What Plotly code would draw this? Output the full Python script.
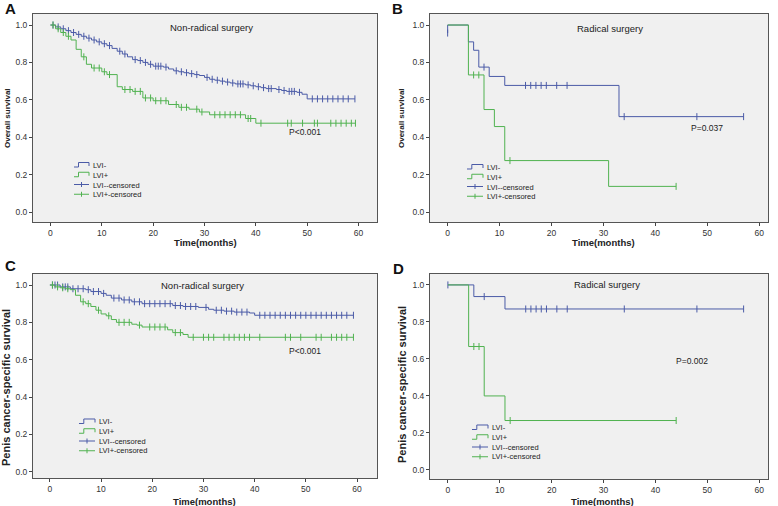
import numpy as np
import plotly.graph_objects as go

# ---------------- data ----------------
x_ticks = [0, 10, 20, 30, 40, 50, 60]
y_ticks = [0.0, 0.2, 0.4, 0.6, 0.8, 1.0]
group_names = ["LVI-", "LVI+", "LVI--censored", "LVI+-censored"]

# Panel A: overall survival, non-radical surgery
A_neg_t = [0,1,2,3,4,5,6,7,8,9,10,11,12,13,14,15,16,17,18,19,20,22,23,24,25,26,27,28,29,30,31,32,33,34,35,36,38,39,40,41,42,44,45,46,48,49,50]
A_neg_s = [1.0,0.99,0.98,0.97,0.96,0.95,0.94,0.93,0.92,0.91,0.90,0.89,0.875,0.86,0.845,0.83,0.815,0.81,0.80,0.79,0.78,0.775,0.765,0.755,0.75,0.745,0.74,0.735,0.73,0.72,0.71,0.705,0.70,0.695,0.69,0.685,0.68,0.675,0.67,0.665,0.66,0.655,0.65,0.645,0.64,0.63,0.605]
A_neg_c = [0.5,1.5,2.5,3.5,4.5,5.5,6.5,7.5,8.5,9.5,10.5,11.5,13.5,14.5,16.5,17.5,18.5,19.5,20.5,21,21.5,22.5,24.5,25.5,26.5,27.5,28.5,30.5,31.5,32.5,33.5,34.5,35.5,36.5,37,37.5,38.5,39.5,40.5,41.5,42.5,43,44.5,45.5,46.5,47,47.5,48.5,51,52,53,54,55,56,57,58,59.3]
A_pos_t = [0,1,2,3,4,5,6,7,8,10,11,13,14,16,18,20,23,25,27,29,31,38,40]
A_pos_s = [1.0,0.98,0.96,0.94,0.92,0.87,0.83,0.79,0.77,0.75,0.735,0.67,0.655,0.645,0.61,0.595,0.575,0.56,0.55,0.535,0.52,0.50,0.475]
A_pos_c = [0.5,1.5,2.5,3.5,6.5,8.5,9.5,10.5,11.5,14.5,15.5,16.5,17.5,18.5,19.5,20.5,21.5,22.5,24.5,25.5,26.5,28.5,29.5,32,33,34,35,36,37,38.5,39,41,46.2,46.9,49.1,51.4,52,54.6,55.6,56.6,57.6,58.6,59.4]

# Panel B: overall survival, radical surgery
B_neg_t = [0,0,4,5,6,8,11,33]
B_neg_s = [0.957,1.0,0.91,0.865,0.775,0.725,0.677,0.51]
B_neg_c = [0,7,15,16,17,18,19,21,23,34,48,57]
B_pos_t = [0,4,7,9,11,31]
B_pos_s = [1.0,0.733,0.548,0.457,0.275,0.137]
B_pos_c = [5,6,12,44]

# Panel C: penis cancer-specific survival, non-radical surgery
C_neg_t = [0,2,4,7,8,10,11,12,14,16,18,24,26,29,31,32,34,36,39,40]
C_neg_s = [1.0,0.99,0.98,0.975,0.965,0.955,0.945,0.93,0.92,0.91,0.90,0.89,0.885,0.88,0.87,0.865,0.86,0.855,0.85,0.838]
C_neg_c = [0.5,1,1.5,2.5,3,3.5,4.5,5.5,6.5,7.5,8.5,9.5,10.5,12.5,13.5,14.5,15.5,16.5,17.5,18.5,19.5,20.5,21.5,22.5,23.5,24.5,25.5,26.5,27.5,28.5,30.5,32.5,33.5,34.5,35.5,36.5,37.5,38.5,41,42,43,44,45,46,47,48,49,50,51,52,53,54,55,56,57,58,59.3]
C_pos_t = [0,1,2,3,4,5,6,7,8,9,10,11,12,13,16,17,18,23,24,26,27]
C_pos_s = [1.0,0.99,0.985,0.98,0.975,0.945,0.91,0.90,0.885,0.865,0.845,0.835,0.815,0.80,0.79,0.785,0.775,0.76,0.745,0.735,0.72]
C_pos_c = [0.5,1.5,2.5,3.5,6.5,7.5,9.5,11.5,13.5,14.5,15.5,17.5,19.5,20.5,21.5,22.5,24.5,25.5,28,30,31,32,34,35,36,37,38,39,41,46,47,49,52,53,55,56,57,58,59.3]

# Panel D: penis cancer-specific survival, radical surgery
D_neg_t = [0,5,11]
D_neg_s = [1.0,0.937,0.87]
D_neg_c = [0,7,15,16,17,18,19,21,23,34,48,57]
D_pos_t = [0,4,7,11]
D_pos_s = [1.0,0.667,0.40,0.267]
D_pos_c = [5,6,12,44]

panel_letters = ["A", "B", "C", "D"]
panel_titles = ["Non-radical surgery", "Radical surgery", "Non-radical surgery", "Radical surgery"]
p_values = ["P<0.001", "P=0.037", "P<0.001", "P=0.002"]
p_pos = [(49.6, 0.426), (50.0, 0.451), (49.9, 0.648), (47.0, 0.589)]
y_titles = ["Overall survival", "Overall survival",
            "Penis cancer-specific survival", "Penis cancer-specific survival"]
x_title = "Time(months)"

# ---------------- styling / layout (pixels) ----------------
BLUE = "#4b5ba7"
GREEN = "#50b250"
FONT = "Liberation Sans, Arial, sans-serif"
W, H = 778, 506

boxes = [(33, 377, 14, 222), (430, 768, 14, 222), (33, 377, 274, 478), (430, 768, 274, 479)]
xranges = [(-3.4, 63.6), (-3.4, 61.7), (-3.3, 63.9), (-3.45, 61.7)]
yranges = [(-0.0535, 1.059), (-0.0535, 1.059), (-0.034, 1.059), (-0.049, 1.059)]
title_px = [(211.7, 27), (609.7, 28.7), (202, 285.7), (607, 284.7)]
letter_px = [(3, 8.5), (390, 8), (3, 265), (391, 268)]
ytitle_px = [(7, 118), (401, 118), (6, 388), (402, 385)]
ytitle_size = [8, 8, 11, 11]
xtitle_px = [(205, 242), (603, 242), (204, 501), (602, 501)]
legend_px = [  # icon left x, first row y, text x
    (74, 165, 91), (467, 167, 485), (79, 421.5, 97), (472, 427.5, 490)]
LEG_PITCH = 9.75  # line pitch of a 7.5px multi-line annotation

curves = [
    ((A_neg_t, A_neg_s, A_neg_c), (A_pos_t, A_pos_s, A_pos_c)),
    ((B_neg_t, B_neg_s, B_neg_c), (B_pos_t, B_pos_s, B_pos_c)),
    ((C_neg_t, C_neg_s, C_neg_c), (C_pos_t, C_pos_s, C_pos_c)),
    ((D_neg_t, D_neg_s, D_neg_c), (D_pos_t, D_pos_s, D_pos_c)),
]


def step_lookup(t, s, c):
    t = np.asarray(t, float)
    s = np.asarray(s, float)
    idx = np.searchsorted(t, np.asarray(c, float), side="left") - 1
    idx = np.clip(idx, 0, len(s) - 1)
    return s[idx]


def px2paper(px, py):
    return px / W, 1 - py / H


fig = go.Figure()
layout = {}
shapes = []
annotations = []
TXT = "#222"


def ann(text, px, py, size, angle=0, xanchor="center", color=TXT, **kw):
    x, y = px2paper(px, py)
    annotations.append(dict(text=text, x=x, y=y, xref="paper", yref="paper",
                            xanchor=xanchor, yanchor="middle", textangle=angle, showarrow=False,
                            font=dict(size=size, color=color, family=FONT), **kw))


for i in range(4):
    ax = "" if i == 0 else str(i + 1)
    xa, ya = "x" + ax, "y" + ax
    l, r, tp, bt = boxes[i]
    common = dict(ticks="outside", ticklen=3, tickwidth=1, tickcolor="#444",
                  showline=True, linecolor="#555", linewidth=1, mirror=True,
                  showgrid=False, zeroline=False,
                  tickfont=dict(size=8.5, color="#333", family=FONT))
    layout["xaxis" + ax] = dict(domain=[l / W, r / W], range=list(xranges[i]), anchor=ya,
                                tickvals=x_ticks, **common)
    layout["yaxis" + ax] = dict(domain=[1 - bt / H, 1 - tp / H], range=list(yranges[i]), anchor=xa,
                                tickvals=y_ticks, tickformat=".1f", **common)

    for (t, s, c), col in zip(curves[i], [BLUE, GREEN]):
        tt = list(t)
        ss = list(s)
        if max(c) > tt[-1]:
            tt.append(max(c))
            ss.append(ss[-1])
        fig.add_trace(go.Scatter(x=tt, y=ss, mode="lines", line=dict(color=col, width=1, shape="hv"),
                                 xaxis=xa, yaxis=ya, showlegend=False, hoverinfo="skip"))
        fig.add_trace(go.Scatter(x=c, y=step_lookup(t, s, c), mode="markers",
                                 marker=dict(symbol="line-ns", size=5, line=dict(color=col, width=1)),
                                 xaxis=xa, yaxis=ya, showlegend=False, hoverinfo="skip"))

    ann(panel_titles[i], *title_px[i], 9.5)
    annotations.append(dict(text=p_values[i], x=p_pos[i][0], y=p_pos[i][1], xref=xa, yref=ya,
                            xanchor="center", yanchor="middle", showarrow=False,
                            font=dict(size=8.5, color=TXT, family=FONT)))
    ann("<b>" + panel_letters[i] + "</b>", *letter_px[i], 15, xanchor="left", color="#111")
    ann("<b>" + y_titles[i] + "</b>", *ytitle_px[i], ytitle_size[i], angle=-90)
    ann("<b>" + x_title + "</b>", *xtitle_px[i], 9.5)

    # manual legend inside plot (lower left)
    ix, iy0, tx0 = legend_px[i]
    iw = tx0 - ix - 2
    for k in range(4):
        col = BLUE if k in (0, 2) else GREEN
        yc = iy0 + k * LEG_PITCH
        if k < 2:
            xs = [ix, ix + 0.3 * iw, ix + 0.3 * iw, ix + iw, ix + iw]
            ys = [yc + 2, yc + 2, yc - 2.5, yc - 2.5, yc + 1]
            pts = [px2paper(a, b) for a, b in zip(xs, ys)]
            path = "M " + " L ".join(f"{a:.5f},{b:.5f}" for a, b in pts)
            shapes.append(dict(type="path", path=path, xref="paper", yref="paper",
                               line=dict(color=col, width=1)))
        else:
            a0, b0 = px2paper(ix, yc)
            a1, _ = px2paper(ix + iw, yc)
            am, bt0 = px2paper(ix + iw / 2, yc - 2.5)
            _, bt1 = px2paper(ix + iw / 2, yc + 2.5)
            shapes.append(dict(type="line", x0=a0, x1=a1, y0=b0, y1=b0, xref="paper", yref="paper",
                               line=dict(color=col, width=1)))
            shapes.append(dict(type="line", x0=am, x1=am, y0=bt0, y1=bt1, xref="paper", yref="paper",
                               line=dict(color=col, width=1)))
    ann("<br>".join(group_names), tx0, iy0 + 1.5 * LEG_PITCH, 7.5, xanchor="left", align="left")

fig.update_layout(
    width=W, height=H, margin=dict(l=0, r=0, t=0, b=0),
    paper_bgcolor="white", plot_bgcolor="#f0f0f0",
    font=dict(family=FONT), showlegend=False,
    shapes=shapes, annotations=annotations, **layout,
)
fig.write_html("out.html", config={"displayModeBar": False},
               post_script="document.body.style.margin='0';document.body.style.overflow='hidden';")
